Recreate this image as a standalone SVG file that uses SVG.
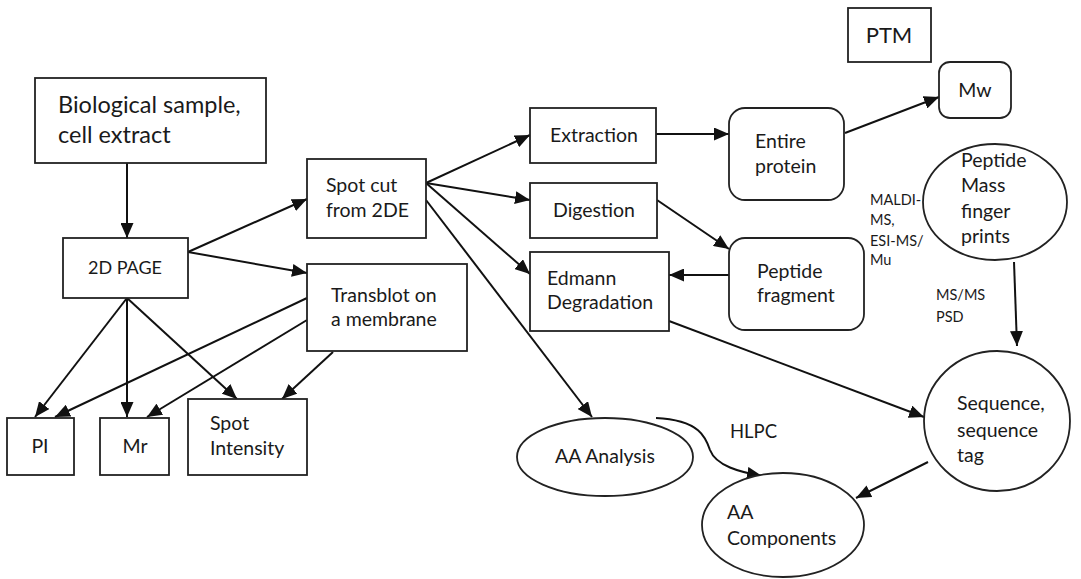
<svg xmlns="http://www.w3.org/2000/svg" width="1081" height="579" viewBox="0 0 1081 579">
<defs>
<marker id="ah" markerUnits="userSpaceOnUse" markerWidth="15" markerHeight="13" viewBox="0 0 15 13" refX="15" refY="6.5" orient="auto">
<path d="M0,0 L15,6.5 L0,13 Z" fill="#111"/>
</marker>
</defs>
<style>
.b{fill:#fff;stroke:#222;stroke-width:1.8}
.t{font-family:Lato,"Liberation Sans",sans-serif;fill:#1a1a1a;font-size:19.5px}
.s{font-family:Lato,"Liberation Sans",sans-serif;fill:#1a1a1a;font-size:14.5px}
.c{fill:none;stroke:#111;stroke-width:2;marker-end:url(#ah)}
</style>
<rect width="1081" height="579" fill="#fff"/>
<g id="connectors">
<line class="c" x1="127" y1="163" x2="127" y2="238"/>
<line class="c" x1="188" y1="252" x2="307" y2="199"/>
<line class="c" x1="188" y1="252" x2="307" y2="273"/>
<line class="c" x1="127" y1="298" x2="35" y2="417"/>
<line class="c" x1="127" y1="298" x2="127" y2="417"/>
<line class="c" x1="127" y1="298" x2="237" y2="399"/>
<line class="c" x1="307" y1="298" x2="55" y2="417"/>
<line class="c" x1="307" y1="320" x2="147" y2="417"/>
<line class="c" x1="333" y1="352" x2="282" y2="399"/>
<line class="c" x1="426" y1="183" x2="530" y2="135"/>
<line class="c" x1="426" y1="183" x2="530" y2="200"/>
<line class="c" x1="426" y1="183" x2="530" y2="274"/>
<line class="c" x1="426" y1="200" x2="592" y2="417"/>
<line class="c" x1="656" y1="134" x2="729" y2="134"/>
<line class="c" x1="657" y1="200" x2="729" y2="249"/>
<line class="c" x1="729" y1="275" x2="669" y2="275"/>
<line class="c" x1="845" y1="133" x2="939" y2="97"/>
<line class="c" x1="1014" y1="262" x2="1017" y2="346"/>
<line class="c" x1="669" y1="321" x2="924" y2="417"/>
<line class="c" x1="928" y1="462" x2="856" y2="498"/>
<path class="c" d="M656,418 C700,420 706,438 710,450 C716,466 740,472 762,476"/>
<text class="t" x="730" y="438" style="font-size:18.5px">HLPC</text>
<text class="s" x="870" y="205">MALDI-</text>
<text class="s" x="870" y="225">MS,</text>
<text class="s" x="870" y="246">ESI-MS/</text>
<text class="s" x="870" y="265">Mu</text>
<text class="s" x="936" y="300">MS/MS</text>
<text class="s" x="936" y="322">PSD</text>
</g>
<g id="bio"><rect class="b" x="35" y="78" width="231" height="85"/>
<text class="t" x="58" y="113" style="font-size:23.5px">Biological sample,</text>
<text class="t" x="58" y="143" style="font-size:23.5px">cell extract</text></g>
<g id="page"><rect class="b" x="63" y="238" width="125" height="60"/>
<text class="t" x="125" y="274" text-anchor="middle" style="font-size:18px">2D PAGE</text></g>
<g id="spotcut"><rect class="b" x="307" y="159" width="119" height="79"/>
<text class="t" x="326" y="192">Spot cut</text>
<text class="t" x="326" y="217">from 2DE</text></g>
<g id="transblot"><rect class="b" x="307" y="264" width="160" height="87"/>
<text class="t" x="331" y="302">Transblot on</text>
<text class="t" x="331" y="326">a membrane</text></g>
<g id="pi"><rect class="b" x="7" y="418" width="67" height="57"/>
<text class="t" x="40" y="453" text-anchor="middle">PI</text></g>
<g id="mr"><rect class="b" x="100" y="418" width="69" height="57"/>
<text class="t" x="135" y="453" text-anchor="middle">Mr</text></g>
<g id="spotint"><rect class="b" x="188" y="399" width="119" height="76"/>
<text class="t" x="210" y="430">Spot</text>
<text class="t" x="210" y="455">Intensity</text></g>
<g id="extraction"><rect class="b" x="530" y="108" width="126" height="55"/>
<text class="t" x="550" y="142">Extraction</text></g>
<g id="digestion"><rect class="b" x="530" y="183" width="127" height="55"/>
<text class="t" x="553" y="217">Digestion</text></g>
<g id="edmann"><rect class="b" x="530" y="252" width="139" height="79"/>
<text class="t" x="547" y="285">Edmann</text>
<text class="t" x="547" y="309">Degradation</text></g>
<g id="entire"><rect class="b" x="729" y="108" width="115" height="92" rx="16"/>
<text class="t" x="755" y="148">Entire</text>
<text class="t" x="755" y="173">protein</text></g>
<g id="fragment"><rect class="b" x="729" y="238" width="135" height="92" rx="16"/>
<text class="t" x="757" y="278">Peptide</text>
<text class="t" x="757" y="302">fragment</text></g>
<g id="ptm"><rect class="b" x="848" y="8" width="83" height="54"/>
<text class="t" x="889" y="43" text-anchor="middle" style="font-size:22px">PTM</text></g>
<g id="mw"><rect class="b" x="939" y="62" width="72" height="56" rx="11"/>
<text class="t" x="975" y="97" text-anchor="middle">Mw</text></g>
<g id="pmf"><ellipse class="b" cx="995" cy="202" rx="72" ry="58"/>
<text class="t" x="961" y="167">Peptide</text>
<text class="t" x="961" y="192">Mass</text>
<text class="t" x="961" y="218">finger</text>
<text class="t" x="961" y="243">prints</text></g>
<g id="aaanalysis"><ellipse class="b" cx="605" cy="457" rx="88" ry="39"/>
<text class="t" x="605" y="463" text-anchor="middle">AA Analysis</text></g>
<g id="aacomp"><ellipse class="b" cx="783" cy="525" rx="81" ry="52"/>
<text class="t" x="727" y="519">AA</text>
<text class="t" x="727" y="545">Components</text></g>
<g id="sequence"><ellipse class="b" cx="997" cy="421" rx="73" ry="70"/>
<text class="t" x="957" y="410">Sequence,</text>
<text class="t" x="957" y="437">sequence</text>
<text class="t" x="957" y="462">tag</text></g>
</svg>
